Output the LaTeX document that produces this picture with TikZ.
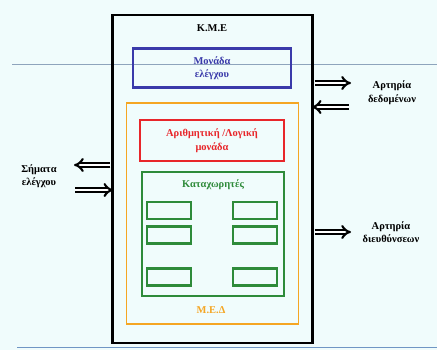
\documentclass[tikz,border=0pt]{standalone}
\usepackage{fontspec}
\setmainfont{Liberation Serif}
\usetikzlibrary{arrows.meta}
\definecolor{bgc}{HTML}{F0FCFC}
\definecolor{kblue}{HTML}{3A3AAA}
\definecolor{kred}{HTML}{E8262A}
\definecolor{kgreen}{HTML}{2E8B3A}
\definecolor{korange}{HTML}{F5A623}
\definecolor{rule}{HTML}{8EA4BC}
\definecolor{brule}{HTML}{7096C4}
\tikzset{
  box/.style={draw, line width=#1, inner sep=0pt},
  lbl/.style={font=\bfseries\fontsize{10.5}{13.5}\selectfont, align=center, inner sep=0pt},
  reg/.style={draw=kgreen, line width=2.2bp, minimum width=44bp, minimum height=17bp, inner sep=0pt},
  bus/.style={double, double distance=2.4bp, line width=2.1bp, -{Implies}, shorten >=0pt}
}
\begin{document}
\begin{tikzpicture}[x=1bp,y=-1bp]
\fill[bgc] (0,0) rectangle (437,350);
\useasboundingbox (0,0) rectangle (437,350);
\draw[rule, line width=1bp] (12,64) -- (437,64);
\draw[brule, line width=1.6bp] (17,347.5) -- (437,347.5);
% outer box
\node[box=2.4bp, draw=black, minimum width=200bp, minimum height=328bp] (kme) at (212.5,179) {};
\node[lbl] (kmet) at (212,28) {Κ.Μ.Ε};
% control unit
\node[box=2.4bp, draw=kblue, minimum width=158bp, minimum height=39bp] (cu) at (212,68) {};
\node[lbl, text=kblue] (cut) at (cu) {Μονάδα\\ελέγχου};
% MEA orange
\node[box=1.6bp, draw=korange, minimum width=172bp, minimum height=221bp] (mea) at (212.5,213.5) {};
\node[lbl, text=korange] (meat) at (211,310) {Μ.Ε.Δ};
% ALU
\node[box=2.4bp, draw=kred, minimum width=144bp, minimum height=41bp] (alu) at (212,140.5) {};
\node[lbl, text=kred] (alut) at (alu) {Αριθμητική /Λογική\\μονάδα};
% registers
\node[box=2.2bp, draw=kgreen, minimum width=142bp, minimum height=124bp] (regs) at (213,234) {};
\node[lbl, text=kgreen] (regt) at (213,185) {Καταχωρητές};
\node[reg] (r1) at (169,210.5) {};
\node[reg] (r2) at (255,210.5) {};
\node[reg] (r3) at (169,235) {};
\node[reg] (r4) at (255,235) {};
\node[reg] (r5) at (169,277) {};
\node[reg] (r6) at (255,277) {};
% bus labels
\node[lbl] (db) at (392,92.5) {Αρτηρία\\δεδομένων};
\node[lbl] (ab) at (391,232) {Αρτηρία\\διευθύνσεων};
\node[lbl] (cs) at (39,176) {Σήματα\\ελέγχου};
% arrows
\coordinate (d1) at (351,83);
\coordinate (d2) at (349,107);
\coordinate (a1) at (351,232);
\coordinate (c1) at (74,165);
\coordinate (c2) at (75,190);
\draw[bus] ([xshift=1bp]kme.east |- d1) -- (d1);
\draw[bus] (d2) -- ([xshift=-2bp]kme.east |- d2);
\draw[bus] ([xshift=1bp]kme.east |- a1) -- (a1);
\draw[bus] ([xshift=-1bp]kme.west |- c1) -- (c1);
\draw[bus] (c2) -- ([xshift=2bp]kme.west |- c2);
\end{tikzpicture}
\end{document}
